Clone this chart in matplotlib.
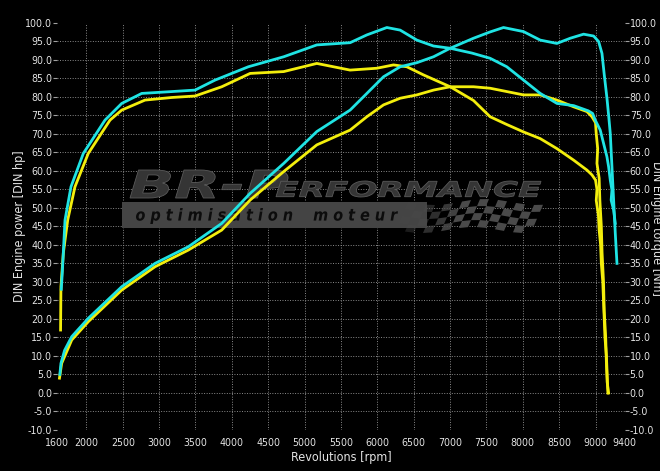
import numpy as np
import matplotlib
matplotlib.use("Agg")
import matplotlib.pyplot as plt
from matplotlib import font_manager as fm
from matplotlib.textpath import TextPath
from matplotlib.font_manager import FontProperties
from matplotlib.patches import PathPatch, Rectangle, Polygon
from matplotlib.transforms import Affine2D

# pick a condensed font if one is installed
_entries = fm.fontManager.ttflist
_names = {f.name for f in _entries}
FONT_STRETCH = 'normal'
if 'Liberation Sans Narrow' in _names:
    FONT = 'Liberation Sans Narrow'
elif any(f.name == 'DejaVu Sans' and str(f.stretch) in ('condensed', 'semi-condensed') for f in _entries):
    FONT = 'DejaVu Sans'
    FONT_STRETCH = 'condensed'
elif 'Roboto' in _names:
    FONT = 'Roboto'
else:
    FONT = 'DejaVu Sans'
plt.rcParams['font.family'] = [FONT, 'DejaVu Sans']
plt.rcParams['font.stretch'] = FONT_STRETCH

# ---------------- data ----------------
x_ticks = [1600, 2000, 2500, 3000, 3500, 4000, 4500, 5000, 5500, 6000, 6500,
           7000, 7500, 8000, 8500, 9000, 9400]
y_ticks = [-10, -5, 0, 5, 10, 15, 20, 25, 30, 35, 40, 45, 50, 55, 60, 65, 70,
           75, 80, 85, 90, 95, 100]

# tuned torque (cyan)
rpm_cyan_torque = [1655, 1670, 1706, 1788, 1958, 2256, 2486, 2761, 3174, 3494,
                   3769, 4227, 4713, 5168, 5626, 5856, 6131, 6314, 6544, 6773,
                   7002, 7300, 7550, 7780, 8010, 8240, 8470, 8700, 8900, 8960,
                   8996, 9065, 9111, 9157, 9180, 9203, 9226, 9215, 9249, 9272]
cyan_torque = [28, 33, 46.7, 55.7, 64.7, 73.7, 78.2, 80.9, 81.4, 81.8,
               84.5, 88.1, 90.8, 94.0, 94.6, 96.7, 98.7, 98.0, 95.3, 93.7,
               93.1, 91.8, 90.4, 88.1, 84.5, 80.9, 78.2, 77.6, 76.2, 75.5,
               73.7, 71.0, 67.4, 63.8, 61.1, 57.5, 54.8, 52.1, 49.4, 45.8]

# tuned power (cyan)
rpm_cyan_power = [1635, 1650, 1700, 1798, 2028, 2486, 2944, 3402, 3861, 4251,
                  4713, 5168, 5626, 5856, 6085, 6314, 6544, 6773, 7002, 7322,
                  7550, 7735, 8010, 8240, 8469, 8652, 8836, 8974, 9043, 9089,
                  9120, 9158, 9185, 9203, 9226, 9249, 9272, 9295]
cyan_power = [5, 8, 11.5, 15.2, 20.2, 28.7, 35.0, 39.5, 45.8, 53.9,
              62.0, 70.6, 76.4, 80.9, 85.4, 88.1, 89.2, 90.8, 93.1, 95.8,
              97.5, 98.7, 97.6, 95.3, 94.4, 95.8, 96.9, 96.4, 94.9, 91.7,
              86.0, 79.5, 74.0, 70.1, 61.1, 52.1, 43.1, 35.0]

# stock power (yellow)
rpm_yellow_power = [1630, 1645, 1660, 1798, 2028, 2486, 2944, 3402, 3861, 4251,
                    4713, 5168, 5626, 5856, 6085, 6314, 6544, 6773, 7002, 7322,
                    7551, 7781, 8010, 8240, 8469, 8698, 8882, 8951, 9000, 9010,
                    9030, 9020, 9050, 9060, 9080, 9090, 9110, 9120, 9140, 9150,
                    9160, 9180]
yellow_power = [4, 6, 8, 14.3, 19.3, 27.8, 34.1, 38.6, 44.0, 52.1,
                59.8, 67.0, 71.0, 74.6, 77.8, 79.6, 80.5, 81.8, 82.7, 82.7,
                82.3, 81.4, 80.5, 80.5, 79.1, 77.3, 76.0, 74.6, 73.0, 70.0,
                66.0, 62.0, 58.0, 52.0, 45.0, 38.0, 30.0, 22.0, 15.0, 8.0,
                3.0, 0.0]

# stock torque (yellow)
rpm_yellow_torque = [1645, 1650, 1683, 1743, 1843, 2026, 2325, 2486, 2806, 3173,
                     3494, 3861, 4251, 4713, 5168, 5397, 5626, 5993, 6222, 6406,
                     6635, 6864, 7002, 7322, 7551, 7781, 8010, 8240, 8469, 8698,
                     8882, 8951, 9000, 9020, 9010, 9040, 9050, 9070, 9080, 9100,
                     9110, 9120, 9130, 9150, 9160, 9170]
yellow_torque = [17, 28.7, 37.8, 46.7, 55.7, 64.7, 73.7, 76.4, 79.1, 79.8,
                 80.2, 82.7, 86.3, 86.8, 89.0, 88.1, 87.2, 87.7, 88.6, 88.1,
                 85.9, 83.9, 82.7, 79.0, 74.6, 72.5, 70.5, 68.7, 66.0, 62.9,
                 60.2, 58.9, 57.5, 55.0, 52.0, 48.0, 44.0, 40.0, 35.0, 30.0,
                 25.0, 20.0, 15.0, 10.0, 5.0, 0.0]

CYAN = '#1fe3e3'
YELLOW = '#f3ee0c'

# ---------------- figure ----------------
W, H = 660, 471
fig = plt.figure(figsize=(W / 100, H / 100), dpi=100, facecolor='black')
L, R, T, B = 57.3, 624.6, 22.7, 430.0
ax = fig.add_axes([L / W, (H - B) / H, (R - L) / W, (B - T) / H], facecolor='black')
ax.set_xlim(1600, 9400)
ax.set_ylim(-10, 100)
for s in ax.spines.values():
    s.set_visible(False)

# grid (interior only)
gcol = '#8a8a8a'
ax.vlines(x_ticks[1:-1], -10, 100, colors=gcol, linestyles=(0, (1, 1.6)), linewidth=0.7, zorder=0.5)
ax.hlines(y_ticks[1:-1], 1600, 9400, colors=gcol, linestyles=(0, (1, 1.6)), linewidth=0.7, zorder=0.5)

# ---------------- watermark logo ----------------
pix = Affine2D().scale(1 / W, 1 / H) + fig.transFigure


def fitted_text(s, x0, y0, x1, y1, prop, **kw):
    tp = TextPath((0, 0), s, size=10, prop=prop)
    e = tp.get_extents()
    tr = Affine2D().translate(-e.x0, -e.y0).scale((x1 - x0) / e.width, (y1 - y0) / e.height).translate(x0, H - y1)
    ax.add_patch(PathPatch(tr.transform_path(tp), transform=pix, **kw))


logo_font = FontProperties(family='DejaVu Sans', weight='bold', style='italic', stretch='normal')
ax.add_patch(Rectangle((122, H - 228), 305, 26, transform=pix, facecolor='#444444',
                       edgecolor='none', zorder=1))
fitted_text("BR-P", 130, 170, 288, 198, logo_font, facecolor='#353535',
            edgecolor='#5a5a5a', linewidth=0.6, zorder=1.1)
fitted_text("ERFORMANCE", 276, 181, 541, 197, logo_font, facecolor='#353535',
            edgecolor='#5a5a5a', linewidth=0.6, zorder=1.1)
spaced = " ".join("optimisation") + "    " + " ".join("moteur")
fitted_text(spaced, 136, 208, 398, 224, logo_font, facecolor='#0c0c0c',
            edgecolor='none', zorder=1.2)

# checkered flag
cw, ch = 9.0, 7.0
for row in range(4):
    for col in range(15):
        if (row + col) % 2:
            continue
        def pt(c, r):
            xx = 408 + c * cw - r * 3.0
            yy = 202 + r * ch + 3.0 * np.sin(c * 0.55)
            return (xx, H - yy)
        poly = [pt(col, row), pt(col + 1, row), pt(col + 1, row + 1), pt(col, row + 1)]
        a = min(1.0, 0.25 + col / 8.0)
        ax.add_patch(Polygon(poly, closed=True, transform=pix, facecolor='#4a4a4a',
                             edgecolor='none', alpha=a, zorder=1))

# ---------------- curves ----------------
lw = 2.0
ax.plot(rpm_yellow_power, yellow_power, color=YELLOW, lw=lw, zorder=3)
ax.plot(rpm_yellow_torque, yellow_torque, color=YELLOW, lw=lw, zorder=3)
ax.plot(rpm_cyan_power, cyan_power, color=CYAN, lw=lw, zorder=3.1)
ax.plot(rpm_cyan_torque, cyan_torque, color=CYAN, lw=lw, zorder=3.1)

# ---------------- ticks / labels ----------------
tcol = '#e4e4e4'
narrow = FONT == 'Liberation Sans Narrow' or FONT_STRETCH == 'condensed'
tick_size = 7.6 if narrow else 6.2
lab_size = 9 if narrow else 7.2
ax.set_xticks(x_ticks)
ax.set_xticklabels([str(v) for v in x_ticks])
ax.set_yticks(y_ticks)
ax.set_yticklabels([f"{v:.1f}" for v in y_ticks])
ax.tick_params(axis='x', length=0, pad=6, labelsize=tick_size, labelcolor=tcol)
ax.tick_params(axis='y', which='both', left=True, right=True, labelleft=True,
               labelright=True, length=3, width=0.8, color='#a0a0a0', pad=0.7,
               labelsize=tick_size, labelcolor=tcol)

fig.text(341 / W, (H - 457) / H, "Revolutions [rpm]", color=tcol, fontsize=lab_size,
         ha='center', va='center')
fig.text(20 / W, (H - 226) / H, "DIN Engine power [DIN hp]", color=tcol, fontsize=lab_size,
         ha='center', va='center', rotation=90)
fig.text(656.5 / W, (H - 228) / H, "DIN Engine torque [Nm]", color=tcol, fontsize=lab_size,
         ha='center', va='center', rotation=-90)

fig.savefig("out.png", dpi=100, facecolor='black')
